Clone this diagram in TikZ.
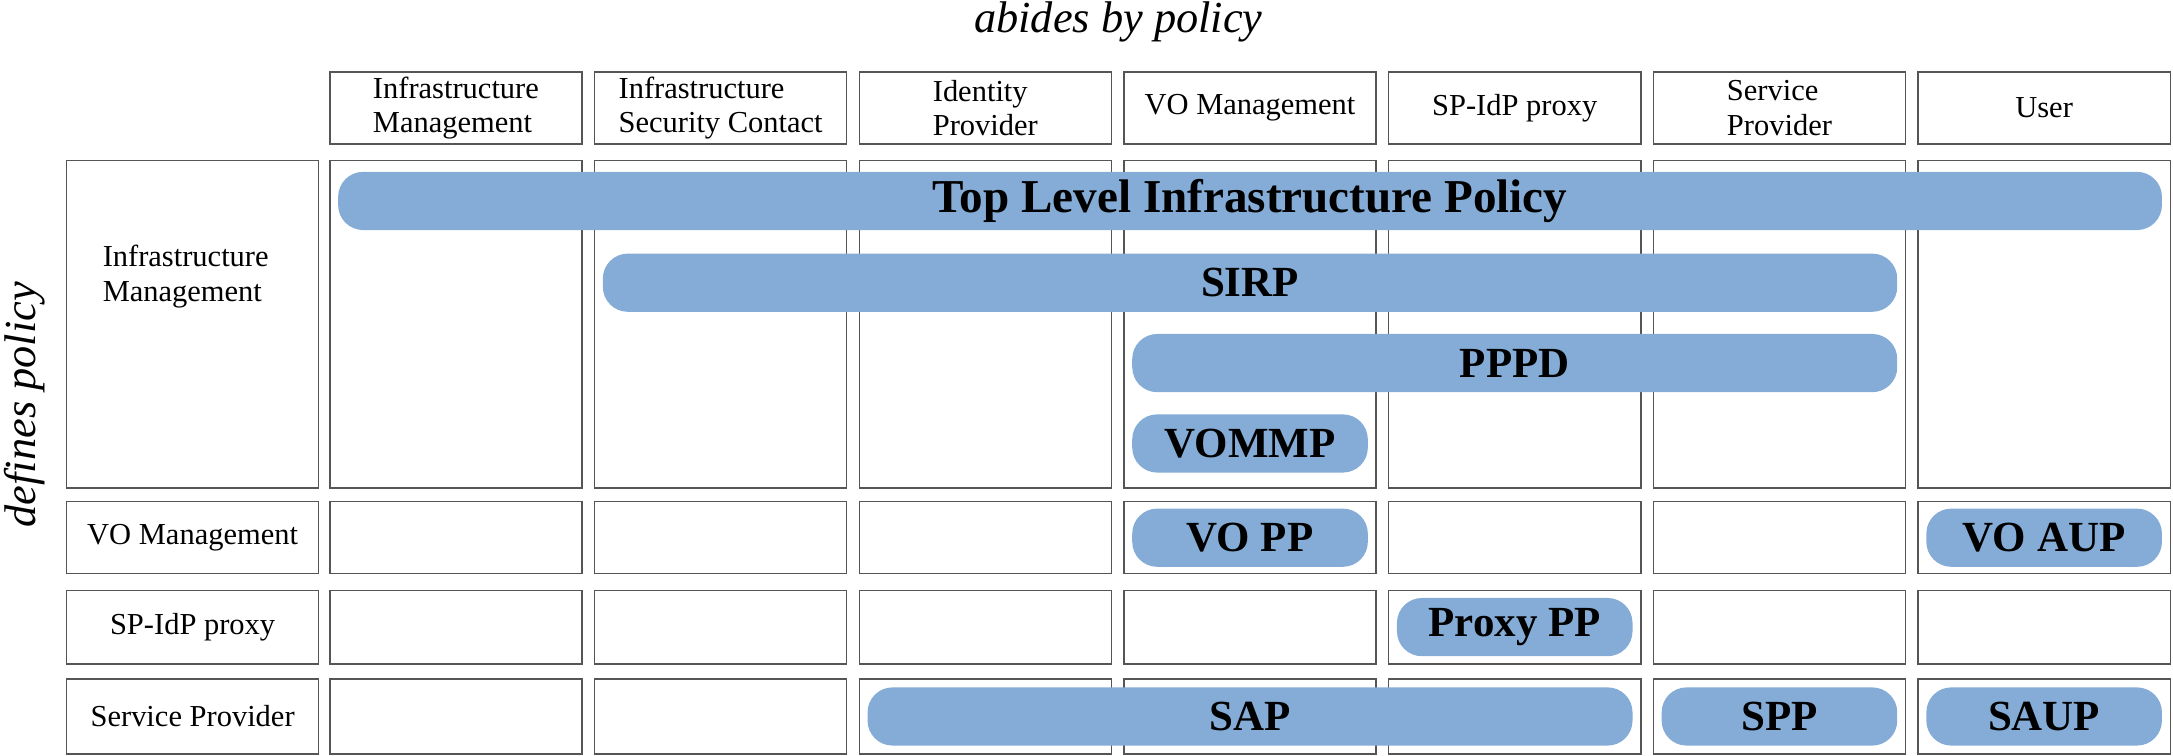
\documentclass[tikz,border=0pt]{standalone}
\usepackage{fontspec}
\setmainfont{Liberation Serif}
\usetikzlibrary{calc}
\definecolor{BarClr}{RGB}{132,172,214}
\definecolor{CellClr}{RGB}{85,85,85}

% policy bar spanning columns #2..#3
\newcommand{\polbar}[5]{%
  \pgfmathsetmacro{\bx}{329+(#2+#3-2)*191/2}%
  \pgfmathsetmacro{\bw}{((#3-#2)*191+170)*0.5}%
  \node[pbar,minimum width=\bw pt] (#1) at (\bx,#4) {#5};}

\begin{document}
\begin{tikzpicture}[x=0.5pt,y=-0.5pt,
  lbl/.style={inner sep=0pt,align=left,font=\fontsize{11}{12.5}\selectfont},
  cell/.style={lbl,draw=CellClr,line width=0.5pt,minimum width=91pt},
  pbar/.style={fill=BarClr,rounded corners=9pt,minimum height=21pt,inner sep=0pt,
    font=\fontsize{15.5}{17}\selectfont\bfseries},
  axis/.style={font=\fontsize{16}{18}\selectfont\itshape}]
\useasboundingbox (0,0) rectangle (1568,545);

% axis titles
\node[axis] (abides) at (807,16) {abides by policy};
\node[axis,rotate=90] (defines) at (18,292) {defines policy};

% header row
\foreach \c/\txt in {1/{Infrastructure\\Management},2/{Infrastructure\\Security Contact},
  3/{Identity\\Provider},4/{VO Management},5/{SP-IdP proxy},6/{Service\\Provider},7/{User}}
  \node[cell,minimum height=26pt] (h\c) at ({329+(\c-1)*191},78) {\txt};

% row labels
\node[cell,minimum height=118pt] (l1) at (139,234) {};
\node[lbl] (l1t) at ($(l1.north)+(-5,84)$) {Infrastructure\\Management};
\node[cell,minimum height=26pt] (l2) at (139,388) {VO Management};
\node[cell,minimum height=26.5pt] (l3) at (139,452.5) {SP-IdP proxy};
\node[cell,minimum height=27pt] (l4) at (139,517) {Service Provider};

% grid cells
\foreach \r/\ry/\rh in {1/234/118,2/388/26,3/452.5/26.5,4/517/27}
  \foreach \c in {1,...,7}
    \node[cell,minimum height=\rh pt] (c-\r-\c) at ({329+(\c-1)*191},\ry) {};

% policies
\polbar{tlip}{1}{7}{145}{\fontsize{17}{19}\selectfont Top Level Infrastructure Policy}
\polbar{sirp}{2}{6}{204}{SIRP}
\polbar{pppd}{4}{6}{262}{PPPD}
\polbar{vommp}{4}{4}{320}{VOMMP}
\polbar{vopp}{4}{4}{388}{VO PP}
\polbar{voaup}{7}{7}{388}{VO AUP}
\polbar{proxypp}{5}{5}{452.5}{Proxy PP}
\polbar{sap}{3}{5}{517}{SAP}
\polbar{spp}{6}{6}{517}{SPP}
\polbar{saup}{7}{7}{517}{SAUP}

\end{tikzpicture}
\end{document}
